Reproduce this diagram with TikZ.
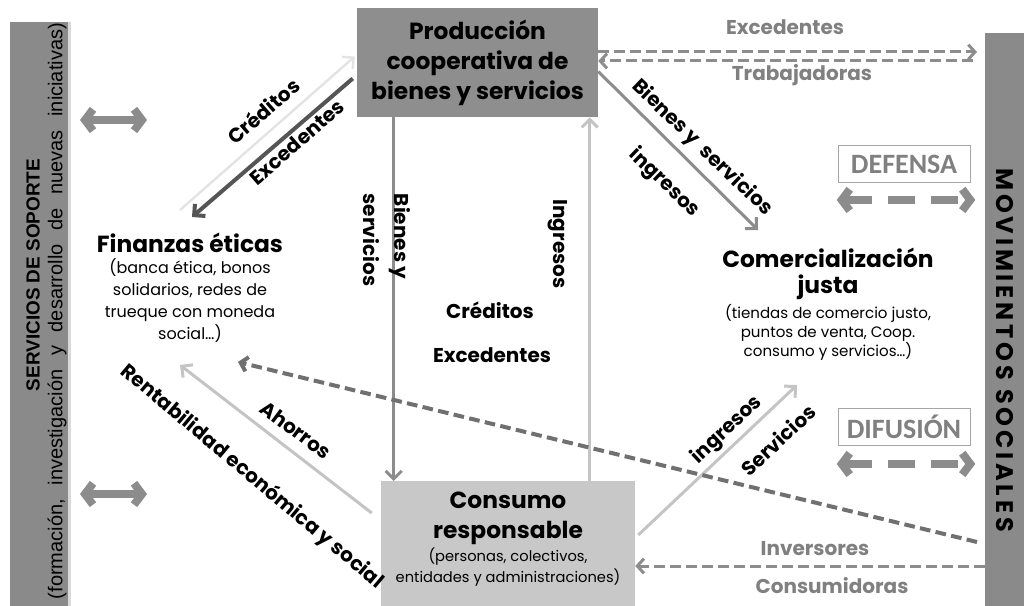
\documentclass[tikz,border=0pt]{standalone}
\usepackage{fontspec}
\setmainfont{Poppins}
\newfontfamily\arialfont{Liberation Sans}
\newfontfamily\tagfont{Carlito}
\newfontfamily\widefont[LetterSpace=16]{Poppins}
\usetikzlibrary{arrows.meta, positioning, calc}
\definecolor{sidegray}{RGB}{138,138,138}
\definecolor{prodgray}{RGB}{142,142,142}
\definecolor{consgray}{RGB}{200,200,200}
\definecolor{midgray}{RGB}{140,140,140}
\definecolor{lightgray}{RGB}{196,196,196}
\definecolor{darkgray}{RGB}{85,85,85}
\definecolor{dashgray}{RGB}{112,112,112}
\definecolor{labelgray}{RGB}{128,128,128}

\begin{document}
\begin{tikzpicture}[
    x=0.75pt, y=-0.75pt,
    sidebar/.style={rectangle, fill=sidegray, inner sep=0pt},
    bigbox/.style={rectangle, inner sep=0pt, align=center, font=\bfseries\fontsize{17.5}{22.5}\selectfont},
    title/.style={align=center, inner sep=0pt, font=\bfseries\fontsize{17.5}{19.5}\selectfont},
    subtext/.style={align=center, inner sep=0pt, font=\fontsize{12}{16.5}\selectfont},
    flowlabel/.style={inner sep=0pt, font=\bfseries\fontsize{15}{17}\selectfont},
    graylabel/.style={inner sep=0pt, text=labelgray, font=\bfseries\fontsize{15}{17}\selectfont},
    tagbox/.style={rectangle, draw=gray!70, fill=white, minimum width=99pt, minimum height=28pt, text=labelgray, font=\tagfont\bfseries\fontsize{21}{23}\selectfont},
    flow/.style={line width=2.25pt, -{Straight Barb[length=6pt, width=12pt]}},
    dashflow/.style={line width=2.25pt, dash pattern=on 8pt off 4pt, -{Straight Barb[length=5pt, width=11pt]}},
    fatarrow/.style={line width=6pt, midgray, {Straight Barb[length=6pt, width=16pt]}-{Straight Barb[length=6pt, width=16pt]}}
]
\useasboundingbox (0,0) rectangle (1024,606);

% Side panels
\node[sidebar, minimum width=43.5pt, minimum height=438pt] (soporte) at (39,314) {};
\draw[gray!30, line width=2pt] ([xshift=1pt]soporte.north east) -- ([xshift=1pt]soporte.south east);
\node[rotate=90, inner sep=0pt, font=\arialfont\bfseries\fontsize{14.2}{17}\selectfont] (soptitle) at (33,275) {SERVICIOS DE SOPORTE};
\node[rotate=90, inner sep=0pt, font=\arialfont\fontsize{15}{18}\selectfont] (sopsub) at (57,311)
    {\frenchspacing\makebox[432pt][s]{(formación, investigación y desarrollo de nuevas iniciativas)}};
\node[sidebar, minimum width=30.75pt, minimum height=430pt] (movim) at (1005.5,319.5) {};
\node[rotate=-90, inner sep=0pt, font=\widefont\bfseries\fontsize{18}{20}\selectfont] (movtitle) at (1005,350) {MOVIMIENTOS SOCIALES};

% Main boxes
\node[bigbox, fill=prodgray, minimum width=180.75pt, minimum height=81.75pt] (prod) at (477.5,62.5) {Producción\\cooperativa de\\bienes y servicios};
\node[bigbox, fill=consgray, minimum width=190.5pt, minimum height=96.75pt, anchor=north] (cons) at (508,481) {};
\node[title, font=\bfseries\fontsize{17.5}{22.5}\selectfont] (constitle) at (508,518) {Consumo\\responsable};
\node[subtext, font=\fontsize{11}{15.75}\selectfont, below=2pt of constitle] (conssub) {(personas, colectivos,\\entidades y administraciones)};

% Finanzas and comercializacion
\node[title] (fin) at (190,243) {Finanzas éticas};
\node[subtext, below=4pt of fin] (finsub) {(banca ética, bonos\\solidarios, redes de\\trueque con moneda\\social…)};
\node[title] (com) at (828,274) {Comercialización\\justa};
\node[subtext, font=\fontsize{11.3}{14.25}\selectfont, below=3pt of com] (comsub) {(tiendas de comercio justo,\\puntos de venta, Coop.\\consumo y servicios…)};

% Finanzas <-> Produccion
\coordinate (credtail) at (180,210);
\coordinate (exchead) at (192,217);
\draw[flow, draw=gray!22, line width=1.8pt] (credtail) -- ($(prod.west)+(-2,-6)$);
\draw[flow, draw=darkgray, line width=3pt] ($(prod.west)+(-4,16)$) -- (exchead);
\node[flowlabel, rotate=41] at (263,111) {Créditos};
\node[flowlabel, rotate=41] at (297,142) {Excedentes};

% Produccion <-> Consumo
\draw[flow, midgray] ($(prod.south west)+(37,0)$) -- ($(cons.north west)+(13,0)$);
\draw[flow, lightgray] ($(cons.north west)+(209,0)$) -- ($(prod.south west)+(233,0)$);
\node[flowlabel, rotate=-90, align=left, font=\bfseries\fontsize{15}{23}\selectfont] at (387,240) {Bienes y\\servicios};
\node[flowlabel, rotate=-90] at (558,244) {Ingresos};
\node[flowlabel] at (490,310) {Créditos};
\node[flowlabel] at (492,355) {Excedentes};

% Produccion -> Comercializacion
\coordinate (bienhead) at (758,230);
\draw[flow, midgray] ($(prod.east)+(0,9)$) -- (bienhead);
\node[flowlabel, rotate=-44] at (702,148) {Bienes y\ \ servicios};
\node[flowlabel, rotate=-44] at (664,183) {ingresos};

% Consumo -> Finanzas
\coordinate (ahorrohead) at (180,365);
\draw[flow, lightgray] ($(cons.north west)+(-9,32)$) -- (ahorrohead);
\node[flowlabel, rotate=-37] at (296,430) {Ahorros};
\node[flowlabel, rotate=-40] at (252,477) {Rentabilidad económica y social};

% Consumo -> Comercializacion
\coordinate (servhead) at (797,385);
\draw[flow, lightgray] ($(cons.north east)+(3,54)$) -- (servhead);
\node[flowlabel, rotate=43] at (727,430) {ingresos};
\node[flowlabel, rotate=43] at (778,440) {Servicios};

% Movimientos sociales
\coordinate (invtail) at (977,542);
\coordinate (invhead) at (238,362);
\draw[dashflow, dashgray, line width=3pt] (invtail) -- (invhead);
\coordinate (contail) at (985,566);
\draw[dashflow, midgray] (contail) -- (contail -| cons.east);
\node[graylabel] at (815,549) {Inversores};
\node[graylabel] at (832,586) {Consumidoras};

\coordinate (exctip) at (977,52);
\coordinate (trabtail) at (973,61);
\draw[dashflow, midgray] (prod.east |- exctip) -- (exctip);
\draw[dashflow, midgray] (trabtail) -- (prod.east |- trabtail);
\node[graylabel] at (785,27) {Excedentes};
\node[graylabel] at (802,75) {Trabajadoras};

% Defensa and difusion
\node[tagbox] (defensa) at (904,164) {DEFENSA};
\draw[fatarrow, dash pattern=on 20pt off 12pt] ($(defensa.south west)+(-1,17)$) -- ($(defensa.south east)+(5,17)$);
\node[tagbox] (difusion) at (904,427) {DIFUSIÓN};
\draw[fatarrow, dash pattern=on 20pt off 12pt] ($(difusion.south west)+(-1,18)$) -- ($(difusion.south east)+(5,18)$);

% Soporte arrows
\coordinate (supAL) at (80,120);
\coordinate (supAR) at (147,120);
\coordinate (supBL) at (80,494);
\coordinate (supBR) at (147,494);
\draw[fatarrow] (supAL) -- (supAR);
\draw[fatarrow] (supBL) -- (supBR);

\end{tikzpicture}
\end{document}
